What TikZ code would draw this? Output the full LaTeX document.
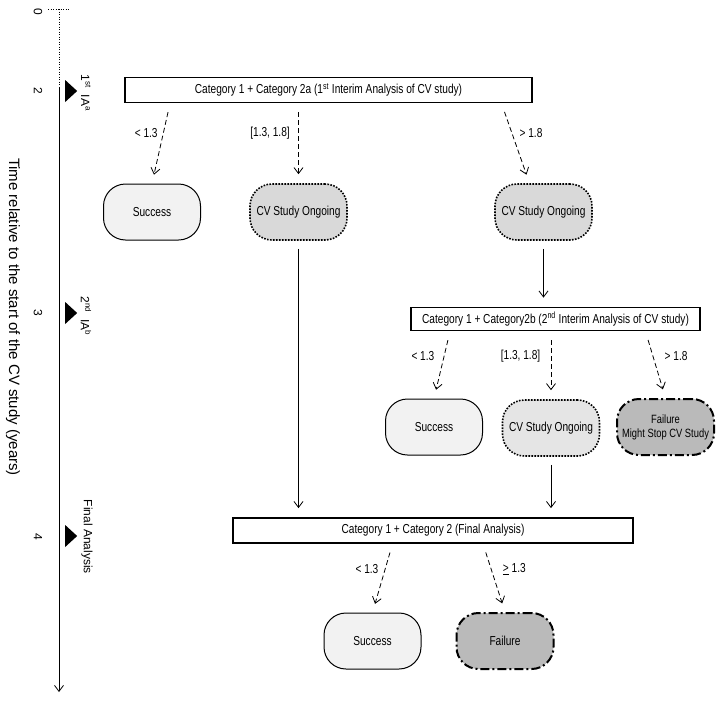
\documentclass[tikz,border=0pt]{standalone}
\usepackage{fontspec}
\setmainfont[FakeStretch=0.78]{Liberation Sans}
\newfontfamily\axisfont{Liberation Sans}
\usetikzlibrary{arrows.meta,shapes.geometric}

\begin{document}
\begin{tikzpicture}[
    x=1pt, y=-1pt,
    every node/.style={align=center, font=\fontsize{13}{15}\selectfont},
    analysis/.style={draw, line width=1.8pt, minimum height=25pt, inner sep=0pt},
    outcome/.style={draw, rounded corners=22pt, minimum width=97pt, minimum height=56pt, inner sep=1pt},
    success/.style={outcome, fill=black!5, line width=1pt},
    ongoing/.style={outcome, fill=black!15, line width=1.6pt, dash pattern=on 1.6pt off 1.4pt},
    failure/.style={outcome, fill=black!27, line width=2pt, dash pattern=on 9pt off 3pt on 2pt off 3pt},
    decision/.style={line width=0.8pt, dash pattern=on 5pt off 3pt, -{Straight Barb[length=6pt,width=9pt]}, shorten <=9pt, shorten >=9pt},
    flow/.style={line width=0.8pt, -{Straight Barb[length=6pt,width=9pt]}, shorten <=8pt, shorten >=9pt},
    marker/.style={isosceles triangle, isosceles triangle stretches, fill=black, minimum width=22pt, minimum height=12pt, inner sep=0pt},
    tick/.style={rotate=-90, font=\axisfont\fontsize{12}{14}\selectfont},
    event/.style={rotate=-90, font=\axisfont\fontsize{12}{14}\selectfont}
]
\useasboundingbox (0,0) rectangle (724,702);

% time axis
\coordinate (tickL) at (48,9);
\coordinate (tickR) at (70,9);
\coordinate (t0) at (59,9);
\coordinate (tstart) at (59,88);
\coordinate (tend) at (59,692);
\draw[line width=1pt, dash pattern=on 1pt off 1.5pt] (tickL) -- (tickR);
\draw[line width=1pt, dash pattern=on 1pt off 1.5pt] (t0) -- (tstart);
\draw[line width=0.8pt, -{Straight Barb[length=6pt,width=9pt]}] (tstart) -- (tend);
\node[tick] (y0) at (38,12) {0};
\node[tick] (y2) at (38,91) {2};
\node[tick] (y3) at (38,313) {3};
\node[tick] (y4) at (38,537) {4};
\node[rotate=-90, font=\axisfont\fontsize{15}{17}\selectfont] (ytitle) at (13,317) {Time relative to the start of the CV study (years)};
\node[marker] (ia1) at (70,91) {};
\node[marker] (ia2) at (70,313) {};
\node[marker] (fa) at (70,536) {};
\node[event] (ia1lab) at (86,93) {1\textsuperscript{st}~~IA\textsuperscript{a}};
\node[event] (ia2lab) at (86,316) {2\textsuperscript{nd}~~IA\textsuperscript{b}};
\node[event] (falab) at (87,537) {Final Analysis};

% first interim analysis
\node[analysis, minimum width=407pt] (cat1) at (328.5,90) {Category 1 + Category 2a (1\textsuperscript{st} Interim Analysis of CV study)};
\node[success] (succA) at (152,212) {Success};
\node[ongoing] (cvA) at (298.5,212) {CV Study Ongoing};
\node[ongoing] (cvB) at (543.5,212) {CV Study Ongoing};

% second interim analysis
\node[analysis, minimum width=289pt, minimum height=23pt] (cat2b) at (555.5,319) {Category 1 + Category2b (2\textsuperscript{nd} Interim Analysis of CV study)};
\node[success] (succB) at (434,427) {Success};
\node[ongoing, fill=black!10] (cvC) at (551,428) {CV Study Ongoing};
\node[failure, font=\fontsize{12}{14}\selectfont] (failB) at (665.5,427) {Failure\\Might Stop CV Study};

% final analysis
\node[analysis, minimum width=400pt] (final) at (433,530.5) {Category 1 + Category 2 (Final Analysis)};
\node[success] (succC) at (372.5,641) {Success};
\node[failure] (failC) at (505,641) {Failure};

\draw[decision] ([xshift=18pt]cat1.south -| succA.north) -- node[pos=0.37, left=2pt] {< 1.3} (succA.north);
\draw[decision] (cat1.south -| cvA.north) -- node[pos=0.37, left=5pt] {[1.3, 1.8]} (cvA.north);
\draw[decision] ([xshift=-42pt]cat1.south -| cvB.north) -- node[pos=0.37, right=4pt] {> 1.8} ([xshift=-14pt]cvB.north);
\draw[flow] (cvA.south) -- (cvA.south |- final.north);
\draw[flow] (cvB.south) -- (cvB.south |- cat2b.north);

\draw[decision] ([xshift=16pt]cat2b.south -| succB.north) -- node[pos=0.37, left=6pt] {< 1.3} (succB.north);
\draw[decision] (cat2b.south -| cvC.north) -- node[pos=0.37, left=7pt] {[1.3, 1.8]} (cvC.north);
\draw[decision] ([xshift=-20pt]cat2b.south -| failB.north) -- node[pos=0.37, right=8pt] {> 1.8} (failB.north);
\draw[flow] (cvC.south) -- (cvC.south |- final.north);

\draw[decision] ([xshift=20pt]final.south -| succC.north) -- node[pos=0.37, left=3pt] {< 1.3} (succC.north);
\draw[decision] ([xshift=-22pt]final.south -| failC.north) -- node[pos=0.37, right=8pt] {\underline{>} 1.3} (failC.north);
\end{tikzpicture}
\end{document}
